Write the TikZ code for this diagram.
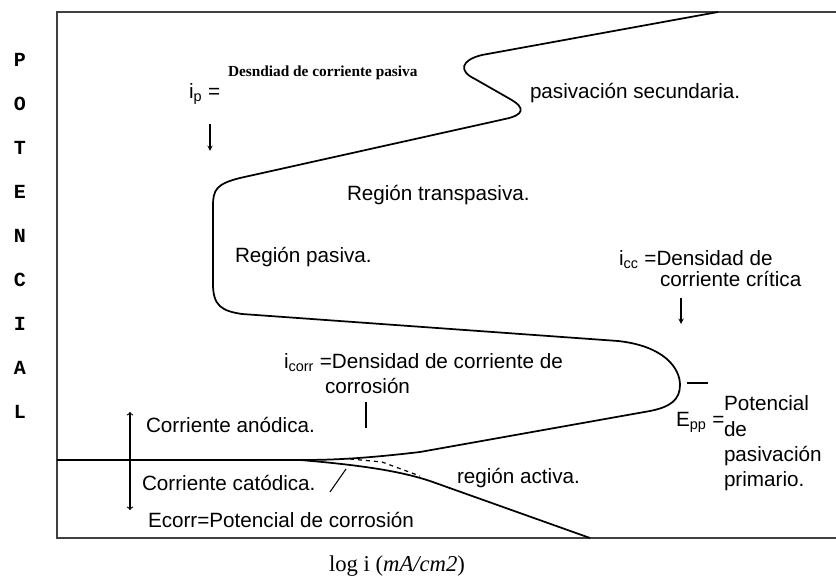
\documentclass[tikz,border=0pt]{standalone}
\usepackage{fontspec}
\setmainfont{Liberation Sans}
\newfontfamily\serifa{Liberation Serif}
\newfontfamily\monoa{Liberation Mono}
\usetikzlibrary{positioning}

\begin{document}
\begin{tikzpicture}[x=0.75pt, y=-0.75pt, every node/.style={inner sep=0pt, outer sep=0pt},
    lbl/.style={anchor=west, font=\fontsize{15.5}{19}\selectfont},
    axisletter/.style={font=\monoa\bfseries\fontsize{15}{16}\selectfont},
    curva/.style={line width=1.3pt, line join=round},
    marco/.style={line width=1.4pt, black!75}]
        \useasboundingbox (0,0) rectangle (836,584);
        \draw [marco] (836,12) -- (57,12) -- (57,538) -- (836,538);
      % POTENCIAL
        \foreach \letra [count=\k] in {P,O,T,E,N,C,I,A,L}
          \node (eje-\k) [axisletter] at (20,{16+44*\k}) {\letra};
        \node (logi) [font=\serifa\fontsize{17}{19}\selectfont] at (397,566) {log i (\textit{mA/cm2})};
      % curva de polarizacion
        \draw [curva] (718,12) -- (482,55) .. controls (461,60) and (458,71) .. (475,79)
          -- (510,99) .. controls (526,108) and (524,115) .. (505,119)
          -- (240,178) .. controls (216,184) and (213,190) .. (213,206) -- (213,284)
          .. controls (213,306) and (222,311) .. (242,314) -- (618,341)
          .. controls (664,346) and (680,368) .. (680,385)
          .. controls (680,400) and (670,407) .. (650,411) -- (420,452)
          .. controls (360,459) and (330,460) .. (300,460);
        \draw [curva] (57,460) -- (300,460);
        \draw [curva] (300,460) .. controls (360,465) and (400,471) .. (430,481) -- (590,538);
        \draw [dashed, line width=0.9pt] (350,459) -- (382,462) -- (420,476);
      % textos
        \node (secund) [lbl] at (530,93) {pasivación secundaria.};
        \node (transp) [lbl] at (347,195) {Región transpasiva.};
        \node (pasiva) [lbl] at (235,257) {Región pasiva.};
        \node (activa) [lbl] at (457,478) {región activa.};
        \node (ip) [lbl] at (189,94) {i\textsubscript{p} =};
        \node (ipdes) [anchor=west, font=\serifa\bfseries\fontsize{11.5}{13}\selectfont] at (228,73) {Desndiad de corriente pasiva};
        \node (icc) [lbl] at (619,260) {i\textsubscript{cc} =Densidad de};
        \node (icc2) [lbl] at (660,279) {corriente crítica};
        \node (icorr) [lbl] at (284,363) {i\textsubscript{corr} =Densidad de corriente de};
        \node (icorr2) [lbl] at (325,386) {corrosión};
        \node (epp) [lbl] at (676,422) {E\textsubscript{pp} =};
        \node (epptxt) [lbl, anchor=north west, align=left] at (724,396) {Potencial\\de\\pasivación\\primario.};
        \node (anod) [lbl] at (146,425) {Corriente anódica.};
        \node (catod) [lbl] at (142,483) {Corriente catódica.};
        \node (ecorr) [lbl] at (148,520) {Ecorr=Potencial de corrosión};
      % flechas
        \coordinate (ip-a) at (210,124);
        \coordinate (ip-b) at (210,151);
        \draw [-stealth, line width=0.8pt] (ip-a) -- (ip-b);
        \coordinate (icc-a) at (681,298);
        \coordinate (icc-b) at (681,324);
        \draw [-stealth, line width=0.8pt] (icc-a) -- (icc-b);
        \coordinate (icorr-a) at (366,402);
        \coordinate (icorr-b) at (366,428);
        \draw [line width=1pt] (icorr-a) -- (icorr-b);
        \coordinate (epp-a) at (687,383);
        \coordinate (epp-b) at (708,383);
        \draw [line width=1pt] (epp-a) -- (epp-b);
        \coordinate (ec-a) at (130,412);
        \coordinate (ec-b) at (130,510);
        \draw [<->, line width=0.8pt] (ec-a) -- (ec-b);
        \coordinate (sl-a) at (330,492);
        \coordinate (sl-b) at (346,469);
        \draw [line width=0.8pt] (sl-a) -- (sl-b);
    \end{tikzpicture}
\end{document}
